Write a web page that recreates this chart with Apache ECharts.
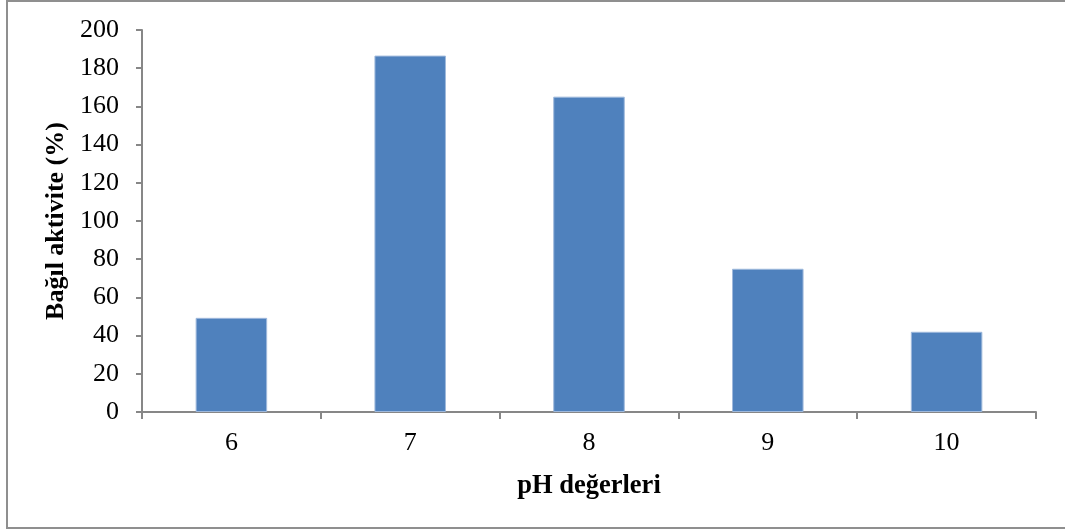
<!DOCTYPE html>
<html>
<head>
<meta charset="utf-8">
<script src="https://cdn.jsdelivr.net/npm/echarts@6/dist/echarts.min.js"></script>
<style>html,body{margin:0;padding:0;background:#fff;}#c{width:1065px;height:532px;}</style>
</head>
<body>
<div id="c"></div>
<script>
const categories = ['6', '7', '8', '9', '10'];
const activity = [49.3, 186.6, 165.1, 75.0, 42.0];
const xTitle = 'pH değerleri';
const yTitle = 'Bağıl aktivite (%)';

const chart = echarts.init(document.getElementById('c'), null, {renderer: 'canvas'});
const font = '"Liberation Serif", "Times New Roman", serif';
const axisColor = '#878787';
chart.setOption({
  animation: false,
  backgroundColor: '#fff',
  graphic: [{
    type: 'rect', silent: true,
    shape: {x: 7, y: 1, width: 1080, height: 527},
    style: {fill: 'none', stroke: '#8f8f8f', lineWidth: 2}
  }],
  grid: {left: 142, right: 29, top: 30, bottom: 120},
  xAxis: {
    type: 'category',
    data: categories,
    name: xTitle,
    nameLocation: 'middle',
    nameGap: 61,
    nameTextStyle: {fontFamily: font, fontWeight: 'bold', fontSize: 26.5, color: '#000'},
    axisLine: {lineStyle: {color: axisColor, width: 2}},
    axisTick: {show: true, length: 7, lineStyle: {color: axisColor, width: 2}},
    axisLabel: {fontFamily: font, fontSize: 26, color: '#000', margin: 18}
  },
  yAxis: {
    type: 'value',
    min: 0, max: 200, interval: 20,
    name: yTitle,
    nameLocation: 'middle',
    nameGap: 71,
    nameTextStyle: {fontFamily: font, fontWeight: 'bold', fontSize: 26, color: '#000'},
    axisLine: {show: true, lineStyle: {color: axisColor, width: 2}},
    axisTick: {show: true, length: 6, lineStyle: {color: axisColor, width: 2}},
    splitLine: {show: false},
    axisLabel: {fontFamily: font, fontSize: 26, color: '#000', margin: 23}
  },
  series: [{
    type: 'bar',
    data: activity,
    barWidth: '40%',
    itemStyle: {color: '#4f81bd', borderColor: '#9fb9dc', borderWidth: 1}
  }]
});
</script>
</body>
</html>
